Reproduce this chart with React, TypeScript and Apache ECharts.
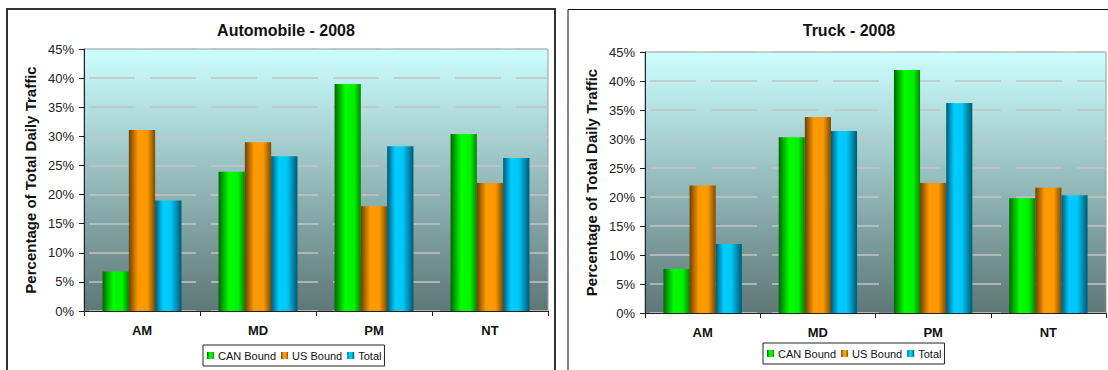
import React, { useEffect, useRef } from "react";
import * as echarts from "echarts";

const categories = ["AM", "MD", "PM", "NT"];
const seriesNames = ["CAN Bound", "US Bound", "Total"];
const autoCan = [6.8, 23.9, 39.0, 30.4];
const autoUs = [31.1, 29.0, 18.0, 22.0];
const autoTotal = [19.0, 26.6, 28.3, 26.3];
const truckCan = [7.6, 30.3, 41.9, 19.8];
const truckUs = [22.0, 33.8, 22.4, 21.6];
const truckTotal = [11.9, 31.4, 36.2, 20.3];
const titles = ["Automobile - 2008", "Truck - 2008"];
const yAxisTitle = "Percentage of Total Daily Traffic";

const FONT = "'Liberation Sans', Arial, sans-serif";

const hGrad = (stops: [number, string][]) => ({
  type: "linear",
  x: 0,
  y: 0,
  x2: 1,
  y2: 0,
  colorStops: stops.map(([offset, color]) => ({ offset, color })),
});

const greenGrad = hGrad([
  [0, "#006800"],
  [0.4, "#00FF00"],
  [0.75, "#00F000"],
  [1, "#008800"],
]);
const orangeGrad = hGrad([
  [0, "#6E4200"],
  [0.35, "#FF9900"],
  [0.7, "#FF9900"],
  [1, "#7A4C00"],
]);
const blueGrad = hGrad([
  [0, "#005A78"],
  [0.3, "#00CCFF"],
  [0.6, "#00C8F8"],
  [1, "#005A74"],
]);
const barColors = [greenGrad, orangeGrad, blueGrad];

const plotBg = {
  type: "linear",
  x: 0,
  y: 0,
  x2: 0,
  y2: 1,
  colorStops: [
    { offset: 0, color: "#CCFFFF" },
    { offset: 1, color: "#5E7676" },
  ],
};

export default function App() {
  const ref = useRef<HTMLDivElement>(null);
  useEffect(() => {
    if (!ref.current) return;
    const chart = echarts.init(ref.current, null, { renderer: "svg" });

    const grids = [
      { left: 84, top: 49, width: 464, height: 262 },
      { left: 645, top: 52, width: 461, height: 261 },
    ];

    const xAxes = grids.map((_, i) => ({
      type: "category",
      gridIndex: i,
      data: categories,
      axisLine: { show: true, lineStyle: { color: "#222", width: 1 } },
      axisTick: { show: true, length: 5, alignWithLabel: false, lineStyle: { color: "#222" } },
      axisLabel: { color: "#111", fontSize: 13, fontWeight: "bold", fontFamily: FONT, margin: 13 },
      splitLine: { show: false },
    }));

    const yAxes = grids.map((_, i) => ({
      type: "value",
      gridIndex: i,
      min: 0,
      max: 45,
      interval: 5,
      name: yAxisTitle,
      nameLocation: "middle",
      nameGap: 46,
      nameTextStyle: { fontSize: 15, fontWeight: "bold", color: "#111", fontFamily: FONT },
      axisLine: { show: true, lineStyle: { color: "#222", width: 1 } },
      axisTick: { show: true, length: 5, lineStyle: { color: "#222" } },
      axisLabel: { color: "#222", fontSize: 13, fontFamily: FONT, margin: 10, formatter: "{value}%" },
      splitLine: { show: true, lineStyle: { color: "#C4C4C4", width: 1.5, type: [46, 15], dashOffset: -5 } },
    }));

    const data = [
      [autoCan, autoUs, autoTotal],
      [truckCan, truckUs, truckTotal],
    ];

    const series: any[] = [];
    data.forEach((group, gi) => {
      group.forEach((vals, si) => {
        series.push({
          type: "bar",
          name: seriesNames[si],
          xAxisIndex: gi,
          yAxisIndex: gi,
          data: vals,
          barGap: "0%",
          barCategoryGap: "32%",
          itemStyle: { color: barColors[si] },
          emphasis: { disabled: true },
        });
      });
    });

    const legends = [
      { left: 203, top: 345 },
      { left: 763, top: 343 },
    ].map((pos) => ({
      ...pos,
      data: seriesNames.map((n, i) => ({ name: n, itemStyle: { color: barColors[i] } })),
      orient: "horizontal",
      icon: "rect",
      itemWidth: 7,
      itemHeight: 7,
      itemGap: 5,
      padding: [5, 3, 5, 4],
      borderColor: "#222",
      borderWidth: 1,
      backgroundColor: "#fff",
      selectedMode: false,
      textStyle: { fontSize: 11, color: "#111", fontFamily: FONT, padding: [0, 0, 0, -1] },
    }));

    chart.setOption({
      animation: false,
      backgroundColor: "#fff",
      graphic: [
        {
          type: "rect",
          shape: { x: 7, y: 9, width: 548, height: 370 },
          style: { fill: "#fff", stroke: "#333", lineWidth: 2 },
          z: -10,
          silent: true,
        },
        {
          type: "rect",
          shape: { x: 568, y: 9.5, width: 560, height: 370 },
          style: { fill: "#fff", stroke: "#111", lineWidth: 1 },
          z: -10,
          silent: true,
        },
      ],
      title: [
        {
          text: titles[0],
          left: 281,
          top: 17,
          textAlign: "center",
          textStyle: { fontSize: 16, fontWeight: "bold", color: "#111", fontFamily: FONT },
        },
        {
          text: titles[1],
          left: 844,
          top: 17,
          textAlign: "center",
          textStyle: { fontSize: 16, fontWeight: "bold", color: "#111", fontFamily: FONT },
        },
      ],
      legend: legends,
      grid: grids.map((g) => ({
        ...g,
        show: true,
        backgroundColor: plotBg,
        borderColor: "#999",
        borderWidth: 1,
        containLabel: false,
      })),
      xAxis: xAxes,
      yAxis: yAxes,
      series,
    } as any);

    return () => chart.dispose();
  }, []);

  return (
    <div
      ref={ref}
      style={{ position: "fixed", left: 0, top: 0, width: 1108, height: 370 }}
    />
  );
}
